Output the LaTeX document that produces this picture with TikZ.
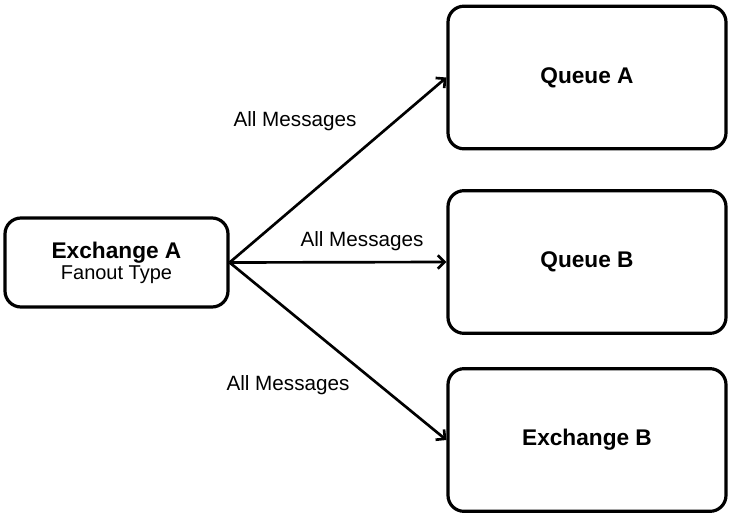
\documentclass[tikz,border=0pt]{standalone}
\usepackage{fontspec}
\setmainfont{Liberation Sans}
\usetikzlibrary{positioning,arrows.meta}
\begin{document}
\begin{tikzpicture}[x=0.75pt,y=-0.75pt]
\tikzset{box/.style={draw,line width=2.4pt,rounded corners=12pt,inner sep=0pt},
  flow/.style={->,line width=2pt,>={Straight Barb[length=5pt]}},
  lbl/.style={font=\fontsize{15.5}{18}\selectfont}}
\useasboundingbox (0,0) rectangle (732,517);
\node[box,minimum width=167.25pt,minimum height=66.75pt,align=center] (exa) at (116.5,262.5)
  {\fontsize{17}{20}\selectfont\bfseries Exchange A\\[1pt]\fontsize{15}{18}\selectfont Fanout Type};
\node[box,minimum width=208.5pt,minimum height=107pt,font=\fontsize{17}{20}\selectfont\bfseries] (qa) at (587,77.5) {Queue A};
\node[box,minimum width=208.5pt,minimum height=107pt,font=\fontsize{17}{20}\selectfont\bfseries] (qb) at (587,262) {Queue B};
\node[box,minimum width=208.5pt,minimum height=107pt,font=\fontsize{17}{20}\selectfont\bfseries] (exb) at (587,440) {Exchange B};
\draw[flow] (exa.east) -- (qa.west);
\draw[flow] (exa.east) -- (qb.west);
\draw[flow] (exa.east) -- (exb.west);
\node[lbl] (la) at (295,121) {All Messages};
\node[lbl] (lb) at (362,241) {All Messages};
\node[lbl] (lc) at (288,385) {All Messages};
\end{tikzpicture}
\end{document}
